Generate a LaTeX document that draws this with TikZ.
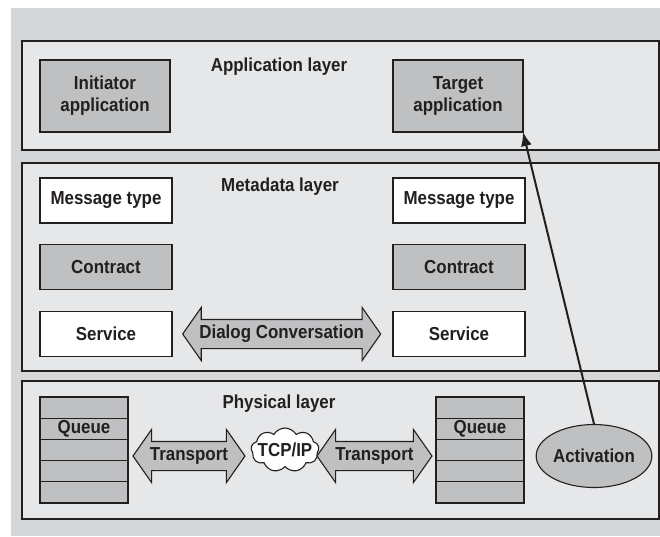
\documentclass[tikz,border=0pt]{standalone}
\usepackage{fontspec}
\setmainfont{Liberation Sans}[FakeStretch=0.9,UprightFont=*-Bold]
\usepackage{tikz}
\usetikzlibrary{arrows.meta,positioning,shapes.geometric,shapes.arrows,shapes.symbols}
\definecolor{ink}{HTML}{231F20}
\definecolor{paper}{HTML}{D5D6D8}
\definecolor{layer}{HTML}{E6E7E9}
\definecolor{shade}{HTML}{BFC0C2}

\begin{document}
\begin{tikzpicture}[x=1pt,y=-1pt,
  font=\fontsize{18.8}{22}\selectfont,text=ink,
  layerbox/.style={draw=ink,line width=1.1pt,fill=layer,minimum width=637pt,inner sep=0pt,outer sep=0pt},
  objbox/.style={draw=ink,line width=1.1pt,minimum width=132pt,minimum height=45pt,inner sep=0pt,outer sep=0pt,align=center},
  cell/.style={draw=ink,line width=1.1pt,fill=shade,minimum width=88pt,minimum height=21.2pt,inner sep=0pt,outer sep=0pt},
  fatarrow/.style={double arrow,draw=ink,line width=1.1pt,fill=shade,double arrow head extend=12pt,
    double arrow tip angle=110,inner xsep=0pt,inner ysep=5.5pt,text height=13pt,text depth=4pt},
  title/.style={anchor=base}]
  \useasboundingbox (0,0) rectangle (660,536);
  \fill[paper] (11,8) rectangle (660,536);
  % the three layers
  \node[layerbox,minimum height=109pt] (app) at (340.5,95.5) {};
  \node[layerbox,minimum height=208pt] (meta) at (340.5,267) {};
  \node[layerbox,minimum height=138pt] (phys) at (340.5,450) {};
  \node[title] (apptitle) at (279,71) {Application layer};
  \node[title] (metatitle) at (280,191) {Metadata layer};
  \node[title] (phystitle) at (279,408) {Physical layer};
  % applications
  \node[objbox,fill=shade,minimum width=130pt,minimum height=72pt] (init) at (105,96) {Initiator\\application};
  \node[objbox,fill=shade,minimum width=130pt,minimum height=72pt] (target) at (458,96) {Target\\application};
  % metadata objects on both sides
  \foreach \side/\x in {L/106,R/459}{
    \node[objbox,fill=white] (msg\side) at (\x,200.5) {Message type};
    \node[objbox,fill=shade] (con\side) at (\x,267) {Contract};
    \node[objbox,fill=white] (srv\side) at (\x,334) {Service};
  }
  \node[fatarrow,minimum height=198pt,right=10pt of srvL] (dialog) {Dialog Conversation};
  % queues
  \foreach \side/\x in {L/84,R/480}{
    \node[cell] (q\side1) at (\x,407.6) {};
    \foreach \i/\t in {2/Queue,3/,4/,5/}{
      \pgfmathtruncatemacro\j{\i-1}
      \node[cell,below=0pt of q\side\j] (q\side\i) {\t};
    }
  }
  \node[fatarrow,minimum height=112pt] (transL) at (189,456) {Transport};
  \node[fatarrow,minimum height=115pt] (transR) at (374.5,456) {Transport};
  \node[cloud,draw=ink,line width=1.1pt,fill=white,cloud puffs=9,cloud puff arc=120,aspect=1.5,
    minimum width=68pt,minimum height=44pt,inner sep=0pt,label=center:TCP/IP] (tcp) at (285,450) {};
  \node[ellipse,draw=ink,line width=1.1pt,fill=shade,minimum width=114pt,minimum height=63pt,inner sep=0pt] (act) at (594,456) {Activation};
  \draw[ink,line width=2pt,-{Latex[length=14pt,width=11pt]}] (act.north) -- (target.south east);
\end{tikzpicture}
\end{document}
